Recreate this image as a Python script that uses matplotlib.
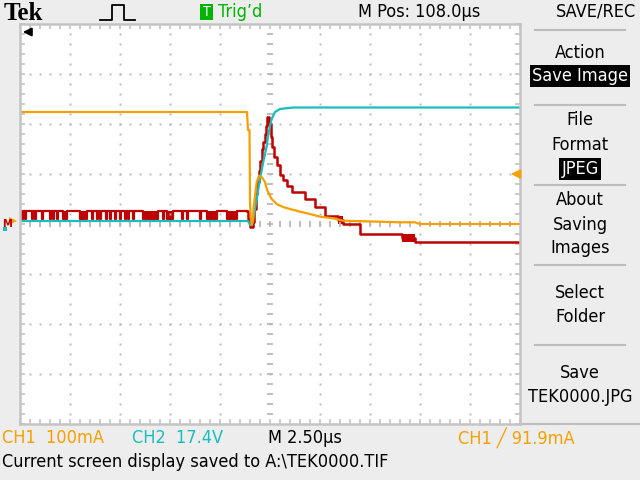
import numpy as np
import matplotlib
matplotlib.use("Agg")
import matplotlib.pyplot as plt
from matplotlib import font_manager
from matplotlib.patches import Rectangle

# scope screen: 10 x 8 divisions, values in divisions
# CH1 (orange)
ch1_t = [0, 4.54, 4.56, 4.59, 4.60, 4.614, 4.634, 4.66, 4.67, 4.70, 4.734, 4.78, 4.834,
         4.90, 4.934, 5.00, 5.034, 5.134, 5.26, 5.40, 5.534, 5.60, 5.80, 6.00, 6.26,
         6.46, 6.90, 7.60, 7.90, 8.00, 10.0]
ch1_v = [2.24, 2.24, 1.88, 1.88, 0.44, 0.14, -0.02, 0.06, 0.30, 0.56, 0.84, 0.966, 0.94,
         0.84, 0.70, 0.56, 0.50, 0.40, 0.34, 0.30, 0.266, 0.246, 0.20, 0.146, 0.114,
         0.066, 0.054, 0.034, 0.034, 0.0, 0.0]

# CH2 (cyan)
ch2_t = [0, 4.56, 4.60, 4.64, 4.666, 4.734, 4.80, 4.866, 4.934, 4.96, 5.00, 5.034,
         5.10, 5.20, 5.46, 10.0]
ch2_v = [0.06, 0.06, -0.02, -0.02, 0.10, 0.50, 0.90, 1.24, 1.56, 1.76, 1.96, 2.10,
         2.24, 2.30, 2.33, 2.33]

# red trace, pre-trigger: sits high, with dips to the low level
red_hi = 0.26
red_lo = 0.10
red_dips = [(0.02, 0.06), (0.10, 0.12), (0.24, 0.26), (0.30, 0.32), (0.44, 0.46),
            (0.60, 0.62), (0.66, 0.68), (0.74, 0.76), (0.86, 0.94), (1.20, 1.34),
            (1.44, 1.46), (1.54, 1.56), (1.60, 1.62), (1.72, 1.74), (1.80, 1.82),
            (1.90, 1.92), (2.00, 2.02), (2.10, 2.12), (2.16, 2.18), (2.26, 2.28),
            (2.46, 2.76), (2.86, 2.88), (2.94, 3.06), (3.24, 3.26), (3.34, 3.36),
            (3.60, 3.62), (3.74, 3.94), (4.14, 4.34)]
# red trace, post-trigger (staircase)
red_t = [4.54, 4.56, 4.60, 4.654, 4.68, 4.71, 4.74, 4.77, 4.80, 4.83, 4.86, 4.89, 4.92,
         4.946, 4.98, 5.01, 5.04, 5.08, 5.134, 5.20, 5.26, 5.34, 5.44, 5.56, 5.70,
         5.90, 6.10, 6.36, 6.46, 6.80, 7.64, 7.90, 10.0]
red_v = [red_hi, 0.10, -0.06, 0.04, 0.30, 0.60, 0.84, 1.06, 1.26, 1.50, 1.64, 1.80, 1.96,
         2.14, 2.00, 1.74, 1.54, 1.34, 1.18, 0.98, 0.88, 0.76, 0.64, 0.64, 0.50,
         0.34, 0.16, 0.08, 0.0, -0.20, -0.28, -0.36, -0.36]
red_blocks = [(6.36, 6.46, 0.0, 0.16), (7.64, 7.90, -0.36, -0.20)]

trig_level = 1.0

orange = "#F5A000"
cyan = "#17BEBE"
red = "#BE0000"
green = "#00B400"
bg = "#EDEDED"
gridc = "#B8B8B8"

# narrow font if one is around, else a plain sans
names = {f.name for f in font_manager.fontManager.ttflist}
cond = [f for f in font_manager.fontManager.ttflist
        if f.name.startswith("DejaVu Sans") and "ondensed" in f.fname]
if "Liberation Sans Narrow" in names:
    fonts = ["Liberation Sans Narrow", "DejaVu Sans"]
    stretch = "normal"
    fs = 14
elif cond:
    fonts = ["DejaVu Sans"]
    stretch = "condensed"
    fs = 13
else:
    fonts = ["Liberation Sans", "DejaVu Sans"]
    stretch = "normal"
    fs = 12

fig = plt.figure(figsize=(6.4, 4.8), dpi=100, facecolor=bg)

# overlay in screen pixels for the scope labels
ui = fig.add_axes([0, 0, 1, 1])
ui.set_xlim(0, 640)
ui.set_ylim(480, 0)
ui.axis("off")


def label(x, y, s, **kw):
    kw.setdefault("fontsize", fs)
    kw.setdefault("va", "center")
    ui.text(x, y, s, family=fonts, fontstretch=stretch, **kw)


# waveform area
ax = fig.add_axes([20 / 640, 56 / 480, 500 / 640, 400 / 480])
ax.set_facecolor("white")
ax.set_xlim(0, 10)
ax.set_ylim(-4, 4)
ax.set_xticks(np.arange(0, 11, 1))
ax.set_yticks(np.arange(-4, 5, 1))
ax.set_xticks(np.arange(0, 10.01, 0.2), minor=True)
ax.set_yticks(np.arange(-4, 4.01, 0.2), minor=True)
ax.tick_params(which="both", direction="in", length=3.5, width=1.2, color="#C4C4C4",
               top=True, right=True, labelbottom=False, labelleft=False)
for s in ax.spines.values():
    s.set_color("#C4C4C4")
    s.set_linewidth(1.8)

# dotted graticule
fine_x = np.arange(0.2, 10, 0.2)
fine_y = np.arange(-3.8, 4, 0.2)
for gx in range(1, 10):
    if gx == 5:
        continue
    ax.plot(np.full_like(fine_y, gx), fine_y, ls="none", marker="s", ms=1.4, color=gridc, mew=0)
for gy in range(-3, 4):
    if gy == 0:
        continue
    ax.plot(fine_x, np.full_like(fine_x, gy), ls="none", marker="s", ms=1.4, color=gridc, mew=0)
ax.plot(np.full_like(fine_y, 5), fine_y, ls="none", marker="_", ms=5, mew=1.3, color=gridc)
ax.plot(fine_x, np.zeros_like(fine_x), ls="none", marker="|", ms=5, mew=1.3, color=gridc)

# red pre-trigger trace built from the dips
pre_t = [0.0]
pre_v = [red_hi]
for a, b in red_dips:
    pre_t += [a, a, b, b]
    pre_v += [red_hi, red_lo, red_lo, red_hi]
    if b - a > 0.05:
        ax.fill_between([a, b], red_lo, red_hi, color=red, lw=0)
pre_t.append(red_t[0])
pre_v.append(red_hi)
ax.plot(pre_t, pre_v, color=red, lw=1.6)
ax.plot(red_t, red_v, color=red, lw=1.8, drawstyle="steps-post")
for a, b, lo, hi in red_blocks:
    ax.fill_between([a, b], lo, hi, color=red, lw=0)

ax.plot(ch2_t, ch2_v, color=cyan, lw=1.6)
ax.plot(ch1_t, ch1_v, color=orange, lw=1.6)

# trigger level arrow on the right, trigger position arrow top left
ax.annotate("", xy=(9.76, trig_level), xytext=(10.0, trig_level),
            arrowprops=dict(arrowstyle="-|>", color=orange, lw=1.5, mutation_scale=13),
            annotation_clip=False)
ax.annotate("", xy=(0.0, 3.84), xytext=(0.28, 3.84),
            arrowprops=dict(arrowstyle="-|>", color="black", lw=1.5, mutation_scale=12),
            annotation_clip=False)

# ground markers on the left
label(7, 224, "M", color=red, fontsize=8, fontweight="bold", ha="center")
ui.plot([13], [221], marker=">", color=orange, ms=6, mew=0)
ui.plot([5], [229], marker="s", color=cyan, ms=3, mew=0)

# top bar
ui.text(4, 13, "Tek", fontsize=18, fontweight="bold", family=["Liberation Serif", "DejaVu Serif"],
        va="center", ha="left")
ui.plot([100, 112, 112, 124, 124, 135], [20, 20, 5, 5, 20, 20], color="black", lw=1.3)
ui.add_patch(Rectangle((200, 4), 13, 16, facecolor=green, edgecolor="none"))
label(206.5, 12, "T", color="white", fontsize=10, ha="center")
label(218, 12, "Trig\u2019d", color=green, ha="left")
label(358, 12, "M Pos: 108.0\u00b5s", ha="left")
label(596, 12, "SAVE/REC", ha="center")

# side menu
menu = [("Action", 53), ("File", 120), ("Format", 145), ("About", 200), ("Saving", 225),
        ("Images", 248), ("Select", 293), ("Folder", 317), ("Save", 373), ("TEK0000.JPG", 397)]
for txt, yy in menu:
    label(580, yy, txt, ha="center")
label(580, 76, "Save Image", ha="center", color="white",
      bbox=dict(facecolor="black", edgecolor="none", pad=1.5))
label(580, 169, "JPEG", ha="center", color="white",
      bbox=dict(facecolor="black", edgecolor="none", pad=1.5))
for yy in [30, 105, 185, 265, 345]:
    ui.plot([535, 625], [yy, yy], color="#BDBDBD", lw=1.5)
ui.plot([522, 640], [424, 424], color="#BDBDBD", lw=1.5)

# bottom status lines
label(2, 438, "CH1  100mA", color=orange, ha="left")
label(132, 438, "CH2  17.4V", color=cyan, ha="left")
label(268, 438, "M 2.50\u00b5s", ha="left")
label(458, 438, "CH1 \u2571 91.9mA", color=orange, ha="left")
label(2, 462, "Current screen display saved to A:\\TEK0000.TIF", ha="left")

fig.savefig("out.png", dpi=100, facecolor=bg)
